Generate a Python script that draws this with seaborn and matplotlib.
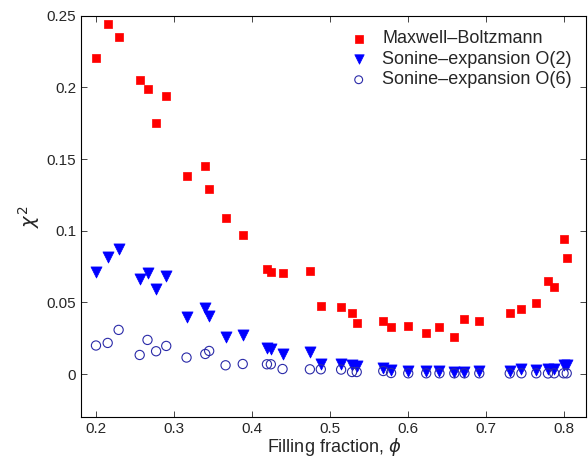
import seaborn as sns
import pandas as pd
import matplotlib.pyplot as plt

# filling fraction values (shared by all three series)
phi = [0.200, 0.215, 0.229, 0.256, 0.266, 0.277, 0.290, 0.316, 0.340, 0.345,
       0.366, 0.388, 0.419, 0.424, 0.439, 0.474, 0.488, 0.514, 0.528, 0.534,
       0.568, 0.578, 0.600, 0.623, 0.640, 0.659, 0.672, 0.691, 0.730, 0.745,
       0.764, 0.779, 0.787, 0.799, 0.803]

chi_mb = [0.2205, 0.2444, 0.2355, 0.205, 0.199, 0.1755, 0.194, 0.138, 0.1455, 0.129,
          0.109, 0.097, 0.0734, 0.0713, 0.0706, 0.0717, 0.0474, 0.047, 0.0425, 0.0357,
          0.0367, 0.0327, 0.0336, 0.0283, 0.0329, 0.0257, 0.0385, 0.0371, 0.0427, 0.0451,
          0.0493, 0.0647, 0.061, 0.0942, 0.0811]

chi_o2 = [0.0715, 0.082, 0.0874, 0.066, 0.0708, 0.059, 0.0685, 0.040, 0.0463, 0.0404,
          0.0257, 0.0271, 0.0182, 0.0178, 0.0143, 0.0154, 0.0073, 0.0068, 0.0066, 0.0058,
          0.0045, 0.003, 0.0022, 0.0022, 0.0022, 0.0015, 0.0015, 0.002, 0.002, 0.0035,
          0.0025, 0.0035, 0.0033, 0.006, 0.006]

chi_o6 = [0.0199, 0.0217, 0.0308, 0.0133, 0.0238, 0.0159, 0.0196, 0.0115, 0.014, 0.0161,
          0.0061, 0.007, 0.0068, 0.0068, 0.0035, 0.0033, 0.0033, 0.0031, 0.0014, 0.0014,
          0.0021, 0.0007, 0.0005, 0.0005, 0.0005, 0.0005, 0.0005, 0.0005, 0.0004, 0.0005,
          0.0005, 0.0004, 0.0005, 0.0005, 0.0005]

labels = ["Maxwell\u2013Boltzmann", "Sonine\u2013expansion O(2)", "Sonine\u2013expansion O(6)"]

xticks = [0.2, 0.3, 0.4, 0.5, 0.6, 0.7, 0.8]
yticks = [0, 0.05, 0.1, 0.15, 0.2, 0.25]
yticklabels = ["0", "0.05", "0.1", "0.15", "0.2", "0.25"]

df = pd.DataFrame({"phi": phi, "mb": chi_mb, "o2": chi_o2, "o6": chi_o6})

sns.set_style("ticks")
plt.rcParams['font.family'] = ['Liberation Sans', 'DejaVu Sans']

fig = plt.figure(figsize=(5.88, 4.58), dpi=100)
ax = fig.add_axes([0.138, 0.0895, 0.859, 0.876])

sns.scatterplot(data=df, x="phi", y="mb", marker="s", color="#ff0000", s=38,
                edgecolor="#ff0000", linewidth=0.5, label=labels[0], ax=ax)
sns.scatterplot(data=df, x="phi", y="o2", marker="v", color="#0000ff", s=64,
                edgecolor="#0000ff", linewidth=0.5, label=labels[1], ax=ax)
sns.scatterplot(data=df, x="phi", y="o6", marker="o", facecolor="none", s=44,
                edgecolor="#2a2aa8", linewidth=0.8, label=labels[2], ax=ax)

ax.set_xlim(0.181, 0.828)
ax.set_ylim(-0.03, 0.25)
ax.set_xticks(xticks)
ax.set_yticks(yticks)
ax.set_yticklabels(yticklabels)
ax.tick_params(direction="in", top=True, right=True, labelsize=11, length=4, width=0.6)
for sp in ax.spines.values():
    sp.set_linewidth(0.8)
    sp.set_color("black")

ax.set_xlabel("Filling fraction, $\\phi$", fontsize=13, labelpad=0)
ax.set_ylabel("$\\chi^2$", fontsize=14, labelpad=3)

ax.legend(loc="upper right", frameon=False, fontsize=13, handletextpad=0.3,
          labelspacing=0.2, borderaxespad=0.4, markerscale=0.85)

fig.savefig("out.png", dpi=100)
